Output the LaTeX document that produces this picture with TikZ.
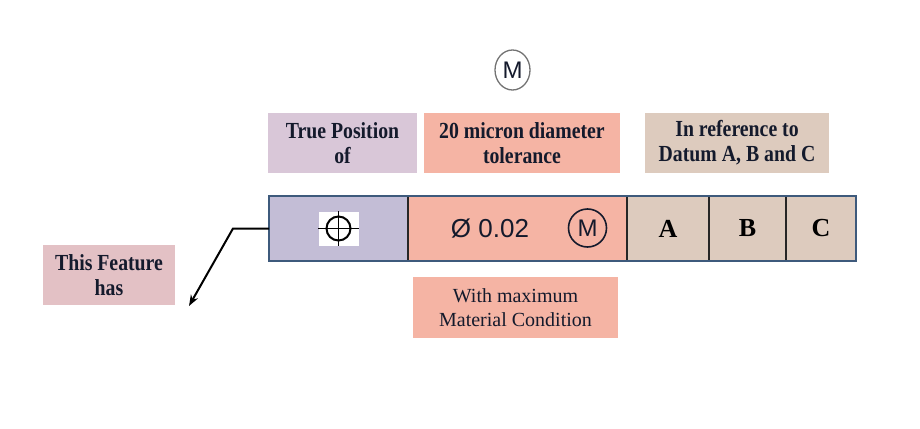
\documentclass[tikz,border=0pt]{standalone}
\usepackage{fontspec}
\setmainfont{Liberation Serif}
\setsansfont{Liberation Sans}
\newfontfamily\etiqfont[FakeStretch=0.86]{Liberation Serif}
\usetikzlibrary{positioning,arrows.meta,shapes.geometric}

\definecolor{lila}{HTML}{C3BDD6}
\definecolor{lilaclaro}{HTML}{D9C7D8}
\definecolor{salmon}{HTML}{F5B4A4}
\definecolor{beige}{HTML}{DDCBBE}
\definecolor{rosa}{HTML}{E3C1C5}
\definecolor{azul}{HTML}{3E5A7C}
\definecolor{tinta}{HTML}{141A2C}

\begin{document}
\begin{tikzpicture}[x=1pt,y=-1pt,
  etiq/.style={fill=#1, minimum height=60pt, align=center, inner sep=0pt,
    text=tinta, font=\etiqfont\bfseries\fontsize{23}{25}\selectfont},
  celda/.style={draw=black!85, line width=1.2pt, fill=#1, minimum height=65pt,
    inner sep=0pt, outer sep=0pt, font=\bfseries\fontsize{26}{26}\selectfont}]
    \useasboundingbox (0,0) rectangle (920,428);
    % simbolo M arriba
    \node[ellipse, draw=black!55, line width=1.3pt, minimum width=35pt,
      minimum height=40pt, inner sep=0pt, text=tinta,
      font=\sffamily\fontsize{24}{24}\selectfont] (mtop) at (512.5,70) {M};
    % etiquetas de arriba
    \node[etiq=lilaclaro, minimum width=149pt] (tp) at (342.5,143) {True Position\\of};
    \node[etiq=salmon, minimum width=196pt] (tol) at (522,143) {20 micron diameter\\tolerance};
    \node[etiq=beige, minimum width=184pt] (dat) at (737,143) {In reference to\\Datum A, B and C};
    % marco de control, celdas
    \node[celda=lila, minimum width=139pt, anchor=north west] (c1) at (269,196) {};
    \node[celda=salmon, minimum width=219pt, right=0pt of c1] (c2) {};
    \node[celda=beige, minimum width=82pt, right=0pt of c2] (ca) {A};
    \node[celda=beige, minimum width=77pt, right=0pt of ca] (cb) {B};
    \node[celda=beige, minimum width=70pt, right=0pt of cb] (cc) {C};
    \draw[azul, line width=1.6pt] (c1.north west) rectangle (cc.south east);
    % simbolo de posicion
    \node[fill=white, minimum width=40pt, minimum height=34pt, inner sep=0pt] (icono) at (c1.center) {};
    \draw[black, line width=2pt] (icono.center) circle [radius=12pt];
    \draw[black, line width=1.6pt] (icono.west) -- (icono.east);
    \draw[black, line width=1.6pt] (icono.north) -- (icono.south);
    % tolerancia
    \node[text=tinta, font=\sffamily\fontsize{26}{26}\selectfont] (dia) at (490,229) {Ø 0.02};
    \node[circle, draw=tinta, line width=1.6pt, minimum size=38pt, inner sep=0pt,
      text=tinta, font=\sffamily\fontsize{24}{24}\selectfont] (mmc) at (587.5,228) {M};
    % etiquetas de abajo
    \node[etiq=rosa, minimum width=132pt] (feat) at (109,275) {This Feature\\has};
    \node[etiq=salmon, minimum width=205pt, minimum height=61pt,
      font=\fontsize{20}{24}\selectfont] (mmcl) at (515.5,307.5) {With maximum\\Material Condition};
    % flecha al elemento
    \coordinate (codo) at (233,228.5);
    \coordinate (punta) at (189,306);
    \draw[-{Stealth[length=11pt,width=8pt]}, line width=2pt] (c1.west) -- (codo) -- (punta);
\end{tikzpicture}
\end{document}
